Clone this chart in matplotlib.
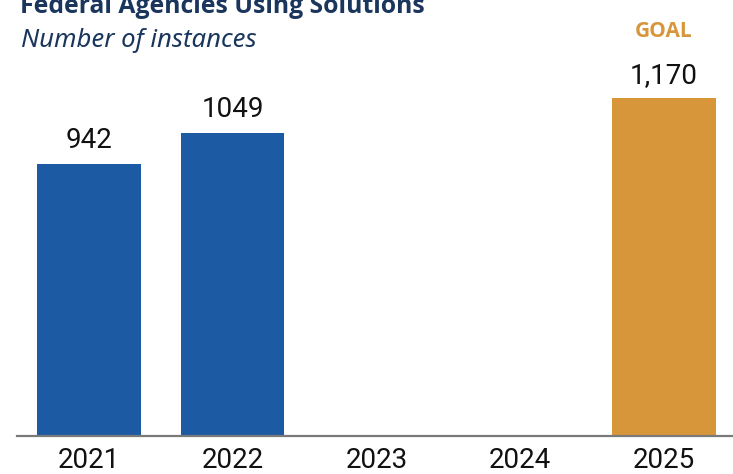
import matplotlib.pyplot as plt

# Federal agencies using solutions, number of instances per fiscal year
years = ['2021', '2022', '2023', '2024', '2025']
instances = [942, 1049, None, None, 1170]
value_labels = ['942', '1049', '', '', '1,170']
is_goal = [False, False, False, False, True]

BLUE = '#1c5aa4'
ORANGE = '#d8963a'
NAVY = '#1b365d'
NUM_FONT = ['Roboto', 'DejaVu Sans']
BOLD_FONT = ['Open Sans', 'DejaVu Sans']
ITAL_FONT = ['Noto Sans', 'DejaVu Sans']

fig = plt.figure(figsize=(7.33, 4.74), dpi=100)
ax = fig.add_axes([17 / 733, 38.5 / 474, 716 / 733, 435.5 / 474])

x = list(range(len(years)))
for i, v in enumerate(instances):
    if v is None:
        continue
    col = ORANGE if is_goal[i] else BLUE
    ax.bar(i, v, width=0.72, color=col, zorder=2)
    ax.annotate(value_labels[i], (i, v), xytext=(0, 11), textcoords='offset points',
                ha='center', va='baseline', fontsize=20, family=NUM_FONT, color='#111111')
    if is_goal[i]:
        ax.annotate('GOAL', (i, v), xytext=(0, 43.5), textcoords='offset points',
                    ha='center', va='baseline', fontsize=15, fontweight='bold',
                    family=BOLD_FONT, color=ORANGE)

ax.set_xlim(-0.5, 4.48)
ax.set_ylim(0, 1509)
ax.set_xticks(x)
ax.set_xticklabels(years, fontsize=20, family=NUM_FONT, color='#111111')
ax.tick_params(axis='x', length=0, pad=8)
ax.set_yticks([])
for s in ['top', 'right', 'left']:
    ax.spines[s].set_visible(False)
ax.spines['bottom'].set_color('#7a7a7a')
ax.spines['bottom'].set_linewidth(1.6)

fig.text(20 / 733, 1 - 12.7 / 474, 'Federal Agencies Using Solutions', ha='left', va='baseline',
         fontsize=17.8, fontweight='bold', family=BOLD_FONT, color=NAVY)
fig.text(21 / 733, 1 - 46.7 / 474, 'Number of instances', ha='left', va='baseline',
         fontsize=18.5, style='italic', family=ITAL_FONT, color=NAVY)

fig.savefig('out.png', dpi=100)
